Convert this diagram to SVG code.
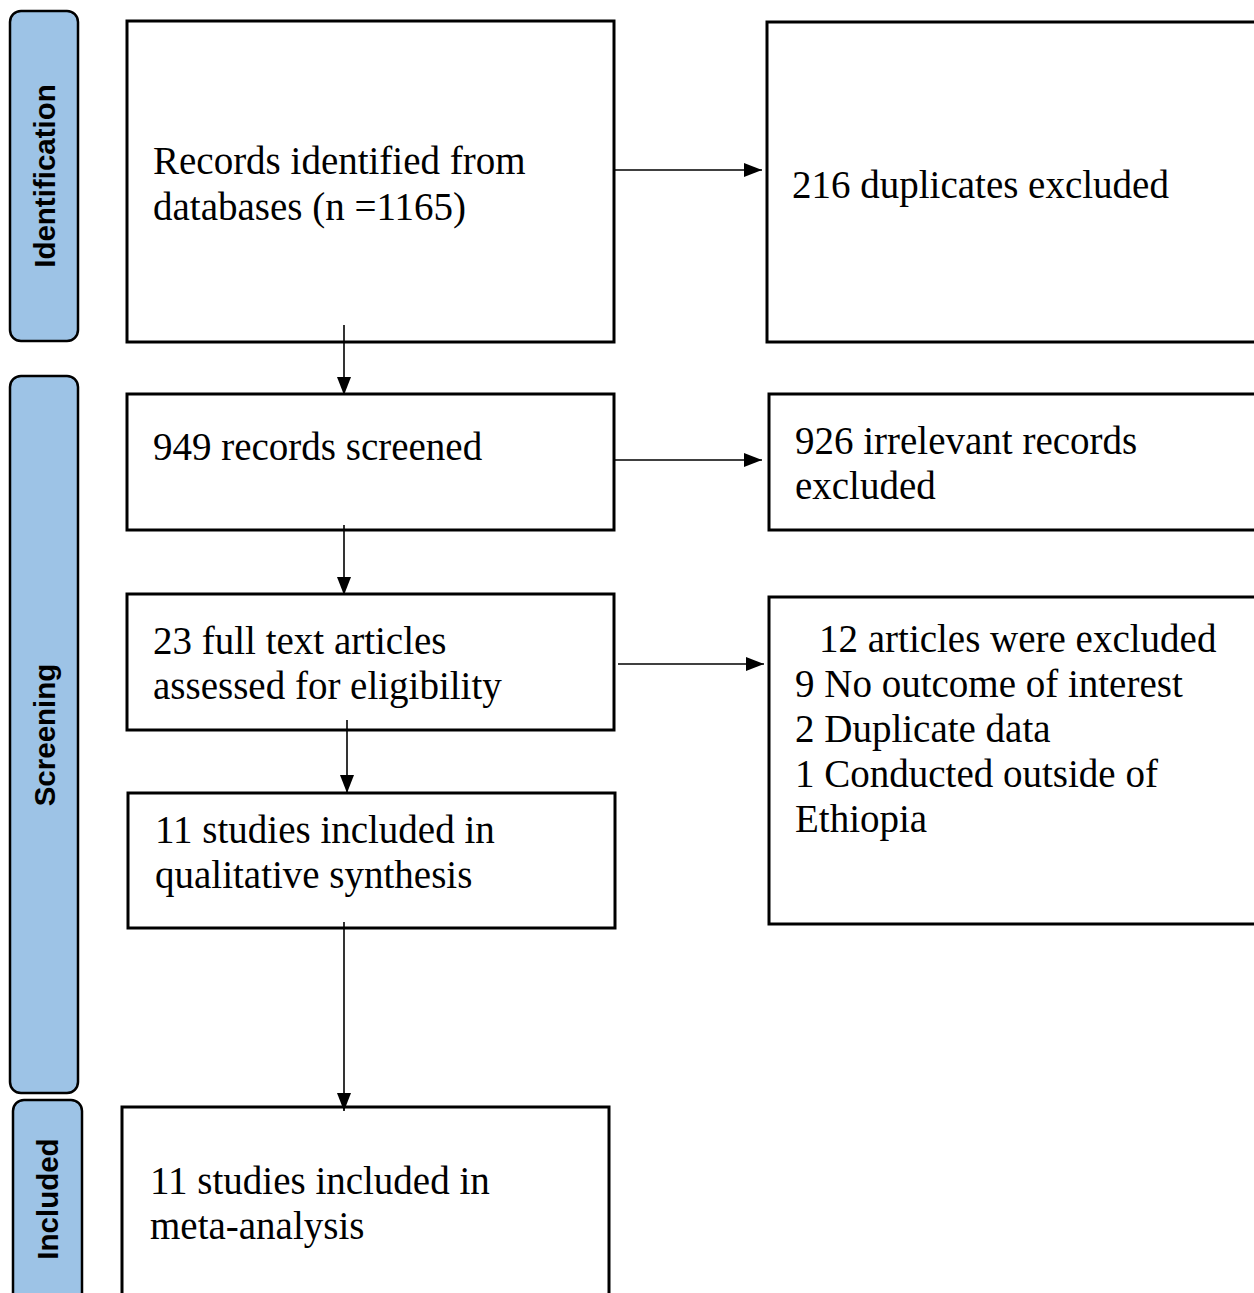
<svg xmlns="http://www.w3.org/2000/svg" width="1254" height="1293" viewBox="0 0 1254 1293">
<style>
.box{fill:#fff;stroke:#000;stroke-width:3}
.side{fill:#9dc3e6;stroke:#000;stroke-width:2.5}
.t{font-family:"Liberation Serif","Times New Roman",serif;font-size:39px;fill:#000}
.s{font-family:"Liberation Sans",Arial,sans-serif;font-size:29.5px;font-weight:bold;fill:#000;text-anchor:middle}
.c{stroke:#000;stroke-width:1.6;fill:none;marker-end:url(#ah)}
</style>
<defs>
<marker id="ah" markerWidth="18" markerHeight="14" refX="18" refY="7" orient="auto" markerUnits="userSpaceOnUse">
<path d="M0,0 L18,7 L0,14 Z" fill="#000"/>
</marker>
</defs>
<rect width="1254" height="1293" fill="#fff"/>
<g id="side-identification">
<rect class="side" x="10" y="11" width="68" height="330" rx="11"/>
<text class="s" transform="translate(55,176) rotate(-90)">Identification</text>
</g>
<g id="side-screening">
<rect class="side" x="10" y="376" width="68" height="717" rx="11"/>
<text class="s" transform="translate(55,735) rotate(-90)">Screening</text>
</g>
<g id="side-included">
<rect class="side" x="13" y="1100" width="69" height="205" rx="11"/>
<text class="s" transform="translate(58,1199) rotate(-90)">Included</text>
</g>
<g id="n1">
<rect class="box" x="127" y="21" width="487" height="321"/>
<text class="t" x="153" y="174">Records identified from</text>
<text class="t" x="153" y="220">databases (n =1165)</text>
</g>
<g id="n2">
<rect class="box" x="767" y="22" width="490" height="320"/>
<text class="t" x="792" y="198">216 duplicates excluded</text>
</g>
<g id="n3">
<rect class="box" x="127" y="394" width="487" height="136"/>
<text class="t" x="153" y="460">949 records screened</text>
</g>
<g id="n4">
<rect class="box" x="769" y="394" width="488" height="136"/>
<text class="t" x="795" y="454">926 irrelevant records</text>
<text class="t" x="795" y="499">excluded</text>
</g>
<g id="n5">
<rect class="box" x="127" y="594" width="487" height="136"/>
<text class="t" x="153" y="654">23 full text articles</text>
<text class="t" x="153" y="699">assessed for eligibility</text>
</g>
<g id="n6">
<rect class="box" x="769" y="597" width="488" height="327"/>
<text class="t" x="819" y="652">12 articles were excluded</text>
<text class="t" x="795" y="697">9 No outcome of interest</text>
<text class="t" x="795" y="742">2 Duplicate data</text>
<text class="t" x="795" y="787">1 Conducted outside of</text>
<text class="t" x="795" y="832">Ethiopia</text>
</g>
<g id="n7">
<rect class="box" x="128" y="793" width="487" height="135"/>
<text class="t" x="155" y="843">11 studies included in</text>
<text class="t" x="155" y="888">qualitative synthesis</text>
</g>
<g id="n8">
<rect class="box" x="122" y="1107" width="487" height="200"/>
<text class="t" x="150" y="1194">11 studies included in</text>
<text class="t" x="150" y="1239">meta-analysis</text>
</g>
<g id="connectors">
<line class="c" x1="614" y1="170" x2="762" y2="170"/>
<line class="c" x1="344" y1="325" x2="344" y2="395"/>
<line class="c" x1="614" y1="460" x2="762" y2="460"/>
<line class="c" x1="344" y1="525" x2="344" y2="595"/>
<line class="c" x1="618" y1="664" x2="764" y2="664"/>
<line class="c" x1="347" y1="720" x2="347" y2="793"/>
<line class="c" x1="344" y1="922" x2="344" y2="1111"/>
</g>
</svg>
